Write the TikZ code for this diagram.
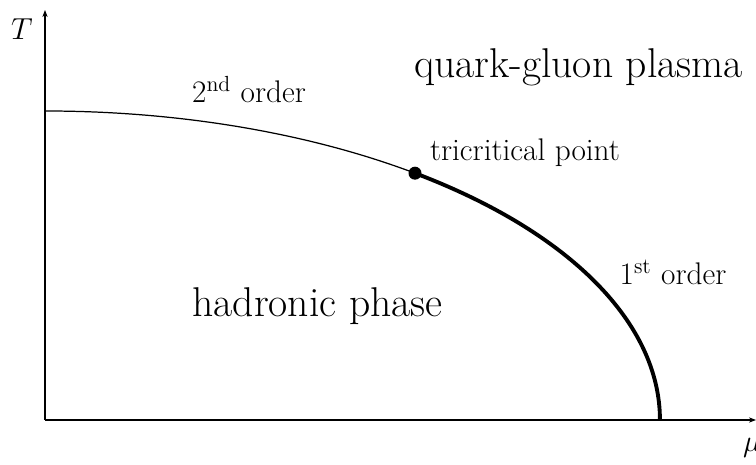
\documentclass[tikz,border=0pt]{standalone}
\usepackage{amsmath,amssymb}
\usepackage{tikz}
\usetikzlibrary{arrows.meta,positioning,calc}

\begin{document}
\begin{tikzpicture}[x=0.02cm,y=0.02cm,
			axis/.style={line width=1.1pt,-{Stealth[length=4pt,width=3pt]}},
			big/.style={font=\fontsize{23.7}{28}\selectfont,anchor=base},
			lbl/.style={font=\fontsize{17.8}{21}\selectfont,anchor=base},
			tcdot/.style={circle,fill=black,inner sep=0pt,minimum size=0.26cm}
			]
			\useasboundingbox (-45,-45) rectangle (711,420);
			\coordinate (o) at (0,0);
			\coordinate (ytop) at (0,410);
			\coordinate (xend) at (711,0);
			\draw[axis] (o) -- (ytop);
			\draw[axis] (o) -- (xend);
			\node[lbl] (tlab) at (-23,380) {$T$};
			\node[lbl,anchor=base west] (mulab) at (692,-32) {$\mu$};
			\coordinate (top) at (0,309);
			\node[tcdot] (tc) at (370,246.8) {};
			\draw[line width=0.7pt] (top) arc[start angle=90,end angle=53.01,x radius=12.3cm,y radius=6.18cm];
			\draw[line width=2.2pt] (tc.center) arc[start angle=53.01,end angle=0,x radius=12.3cm,y radius=6.18cm] coordinate (mc);
			\node[big] (qgp) at (533.5,342) {quark-gluon plasma};
			\node[big] (hp) at (272.5,103) {hadronic phase};
			\node[lbl] (tclab) at (480,259) {tricritical point};
			\node[lbl] (second) at (204,317) {2$^{\text{nd}}$ order};
			\node[lbl] (first) at (628,135) {1$^{\text{st}}$ order};
		\end{tikzpicture}
\end{document}
